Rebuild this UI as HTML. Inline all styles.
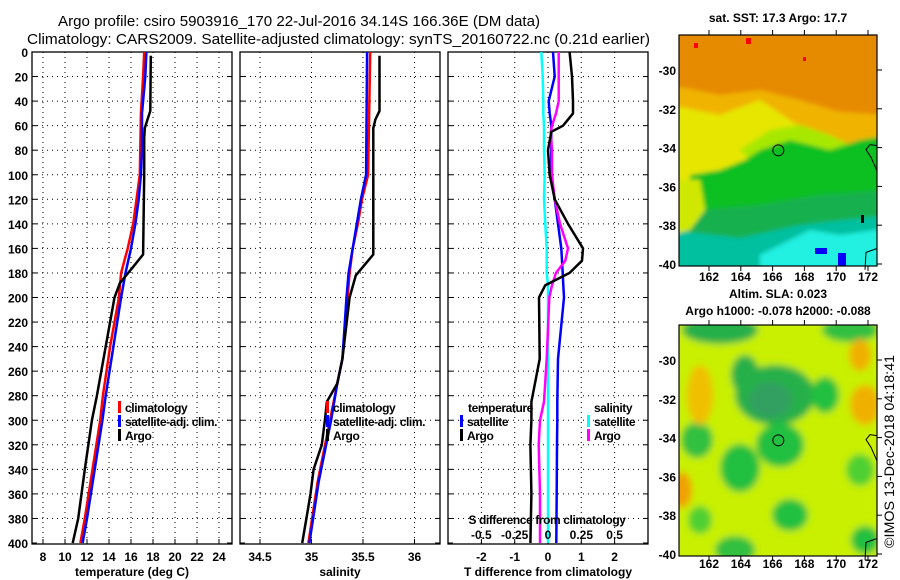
<!DOCTYPE html>
<html><head><meta charset="utf-8"><style>
html,body{margin:0;padding:0;background:#fff;}
svg{display:block;font-family:"Liberation Sans",sans-serif;}
.t{font-weight:bold;font-size:12px;fill:#000;}
.ttl{font-size:15px;fill:#000;}
.grid{stroke:#000;stroke-width:1;stroke-dasharray:1,4;fill:none;}
.frame{fill:none;stroke:#000;stroke-width:1.3;}
</style></head><body>
<svg id="chart" width="900" height="580" viewBox="0 0 900 580" xmlns="http://www.w3.org/2000/svg">
<text class="ttl" x="58" y="26" textLength="482" lengthAdjust="spacingAndGlyphs">Argo profile: csiro 5903916_170 22-Jul-2016 34.14S 166.36E (DM data)</text>
<text class="ttl" x="27" y="44" textLength="623" lengthAdjust="spacingAndGlyphs">Climatology: CARS2009. Satellite-adjusted climatology: synTS_20160722.nc (0.21d earlier)</text>
<g id="p1"></g>
<g id="p2"></g>
<g id="p3"></g>
<g id="m1"></g>
<g id="m2"></g>
<text class="t" transform="translate(894,548) rotate(-90)" style="font-weight:normal;font-size:14px" textLength="193" lengthAdjust="spacingAndGlyphs">©IMOS 13-Dec-2018 04:18:41</text>
</svg>
<script>
// ---- data ----
const depthTicks = [0,20,40,60,80,100,120,140,160,180,200,220,240,260,280,300,320,340,360,380,400];
const tempTicks = [8,10,12,14,16,18,20,22,24];
const salTicks = [34.5,35,35.5,36];
const tdiffTicks = [-2,-1,0,1,2];
const sdiffTicks = [-0.5,-0.25,0,0.25,0.5];
const sdiffTickLabels = ["-0.5","-0.25","0","0.25","0.5"];

const tempClimDepth = [0,20,50,100,120,140,160,180,200,240,280,300,340,380,400];
const tempClim = [17.2,17.1,16.9,16.8,16.5,16.2,15.7,15.1,14.9,14.1,13.45,13.2,12.5,11.8,11.4];
const tempSatDepth = [0,20,50,80,100,120,140,160,180,200,240,280,300,340,380,400];
const tempSat = [17.4,17.3,17.0,17.0,16.9,16.7,16.4,16.0,15.5,15.1,14.4,13.7,13.4,12.7,12.0,11.6];
const tempArgoDepth = [3,48,55,62,70,100,165,175,188,200,240,280,300,340,380,400];
const tempArgo = [17.8,17.75,17.5,17.25,17.2,17.2,17.1,16.2,15.0,14.5,13.7,12.9,12.45,11.8,11.2,10.7];

const salClimDepth = [0,100,120,140,160,180,200,250,270,300,350,400];
const salClim = [35.57,35.55,35.49,35.45,35.40,35.37,35.35,35.30,35.25,35.18,35.06,34.97];
const salSatDepth = [0,100,120,140,160,180,200,250,270,300,350,400];
const salSat = [35.54,35.53,35.48,35.44,35.40,35.36,35.34,35.30,35.25,35.19,35.07,34.98];
const salArgoDepth = [3,48,55,62,100,165,175,182,200,250,270,285,300,320,340,360,380,400];
const salArgo = [35.66,35.66,35.62,35.60,35.60,35.60,35.50,35.43,35.37,35.30,35.25,35.15,35.13,35.10,35.02,34.99,34.95,34.91];

const diffDepth = [0,20,40,50,60,65,80,100,120,140,160,170,180,190,200,250,285,300,320,360,400];
const tdiffSat = [0.15,0.2,0.02,0.05,0.1,0.1,0.1,0.1,0.2,0.3,0.4,0.42,0.44,0.46,0.48,0.3,0.28,0.28,0.27,0.26,0.25];
const tdiffArgo = [0.65,0.72,0.75,0.75,0.45,0.1,0,0.05,0.2,0.6,1.05,1.02,0.65,-0.08,-0.27,-0.25,-0.5,-0.5,-0.53,-0.5,-0.53];
const sdiffSat = [-0.05,-0.04,-0.035,-0.035,-0.03,-0.03,-0.03,-0.025,-0.03,-0.02,-0.01,-0.01,-0.01,0,0,0,0,0,0,0,0];
const sdiffArgo = [0.08,0.08,0.08,0.06,0.03,0.02,0.03,0.03,0.05,0.09,0.15,0.13,0.06,0.03,0.01,-0.01,-0.03,-0.06,-0.07,-0.06,-0.06];

// ---- axes ----
const Y0=52, Y1=543, PB=544;
const yD = d => Y0 + d*(Y1-Y0)/400;
const xT = t => 43 + (t-8)*11;
const xS = s => 260 + (s-34.5)*103;
const xDT = v => 548 + v*33.3;
const xDS = v => 548 + v*133.3;
const NS='http://www.w3.org/2000/svg';
function mk(parent,tag,attrs){const e=document.createElementNS(NS,tag);for(const k in attrs)e.setAttribute(k,attrs[k]);parent.appendChild(e);return e;}
function txt(parent,x,y,s,anchor){const e=mk(parent,'text',{x:x,y:y,'text-anchor':anchor||'middle'});e.setAttribute('class','t');e.textContent=s;return e;}

function panel(g,x0,x1,xticksPx,xlabels,xtitle){
  depthTicks.forEach(d=>{ if(d>0&&d<400){const l=mk(g,'line',{x1:x0,x2:x1,y1:yD(d),y2:yD(d)});l.setAttribute('class','grid');
    
    }
    mk(g,'line',{x1:x0,x2:x0+5,y1:yD(d),y2:yD(d),stroke:'#000'});mk(g,'line',{x1:x1-5,x2:x1,y1:yD(d),y2:yD(d),stroke:'#000'});});
  xticksPx.forEach((x,i)=>{const l=mk(g,'line',{x1:x,x2:x,y1:Y0,y2:PB});l.setAttribute('class','grid');
    
    
    mk(g,'line',{x1:x,x2:x,y1:PB-5,y2:PB,stroke:'#000'});
    if(xlabels){const t=txt(g,x,561,xlabels[i]);
      
      }});
  const r=mk(g,'rect',{x:x0,y:Y0,width:x1-x0,height:PB-Y0});r.setAttribute('class','frame');
  
  
  const t=txt(g,(x0+x1)/2,576,xtitle);
  
  
}
function line(g,xs,ds,fx,color,w,name){
  const pts=xs.map((v,i)=>fx(v).toFixed(1)+','+yD(ds[i]).toFixed(1)).join(' ');
  const p=mk(g,'polyline',{points:pts,fill:'none',stroke:color,'stroke-width':w,'stroke-linejoin':'round'});
  
  
}
function legend(g,x,y,color,label,name){
  mk(g,'rect',{x:x,y:y-11,width:3,height:12,fill:color});
  const t=txt(g,x+7,y,label,'start');
  t.setAttribute('letter-spacing','-0.4');
  
  
}

// panel 1
const p1=document.getElementById('p1');
panel(p1,32,232,tempTicks.map(xT),tempTicks.map(String),'temperature (deg C)');
depthTicks.forEach(d=>{const t=txt(p1,28,yD(d)+5,String(d),'end');
  
  });
line(p1,tempClim,tempClimDepth,xT,'#ff0000',2.5,'temperature-climatology-line');
line(p1,tempSat,tempSatDepth,xT,'#0000ff',2.5,'temperature-satellite-line');
line(p1,tempArgo,tempArgoDepth,xT,'#000000',2.5,'temperature-argo-line');
legend(p1,118,412,'#ff0000','climatology','legend-climatology');
legend(p1,118,426,'#0000ff','satellite-adj. clim.','legend-satellite-adj');
legend(p1,118,440,'#000000','Argo','legend-argo');

// panel 2
const p2=document.getElementById('p2');
panel(p2,240,440,salTicks.map(xS),salTicks.map(String),'salinity');
line(p2,salClim,salClimDepth,xS,'#ff0000',2.5,'salinity-climatology-line');
line(p2,salSat,salSatDepth,xS,'#0000ff',2.5,'salinity-satellite-line');
line(p2,salArgo,salArgoDepth,xS,'#000000',2.5,'salinity-argo-line');
legend(p2,326,412,'#ff0000','climatology','legend-climatology');
legend(p2,326,426,'#0000ff','satellite-adj. clim.','legend-satellite-adj');
legend(p2,326,440,'#000000','Argo','legend-argo');

// panel 3
const p3=document.getElementById('p3');
panel(p3,448,648,tdiffTicks.map(xDT),tdiffTicks.map(String),'T difference from climatology');
line(p3,sdiffSat,diffDepth,xDS,'#00ffff',2.5,'salinity-diff-satellite-line');
line(p3,tdiffSat,diffDepth,xDT,'#0000ff',2.5,'temperature-diff-satellite-line');
line(p3,sdiffArgo,diffDepth,xDS,'#ff00ff',2.5,'salinity-diff-argo-line');
line(p3,tdiffArgo,diffDepth,xDT,'#000000',2.5,'temperature-diff-argo-line');
{const t=txt(p3,468,412,'temperature','start');t.setAttribute('letter-spacing','-0.4');}
{const t=txt(p3,594,412,'salinity','start');t.setAttribute('letter-spacing','-0.4');}
legend(p3,460,426,'#0000ff','satellite','legend-t-satellite');
legend(p3,460,440,'#000000','Argo','legend-t-argo');
legend(p3,587,426,'#00ffff','satellite','legend-s-satellite');
legend(p3,587,440,'#ff00ff','Argo','legend-s-argo');
{const t=txt(p3,547,524,'S difference from climatology');t.setAttribute('letter-spacing','-0.4');}
sdiffTicks.forEach((v,i)=>{const t=txt(p3,xDS(v),539,sdiffTickLabels[i]);
  
  });

// ---- maps ----
const lonTicks=[162,164,166,168,170,172];
const latTicks=[-30,-32,-34,-36,-38,-40];
function mapFrame(g,top,bot,title1,title2,t1y,t2y,labY){
  const xl=v=>709+(v-162)*15.9, yl=v=>top+35+(-30-v)*19.4;
  lonTicks.forEach(v=>{mk(g,'line',{x1:xl(v),x2:xl(v),y1:bot,y2:bot+5,stroke:'#000'});mk(g,'line',{x1:xl(v),x2:xl(v),y1:top-5,y2:top,stroke:'#000'});
    const t=txt(g,xl(v),labY,String(v));});
  latTicks.forEach(v=>{mk(g,'line',{x1:877,x2:882,y1:yl(v),y2:yl(v),stroke:'#000'});
    const t=txt(g,676,yl(v)+5,String(v),'end');});
  const r=mk(g,'rect',{x:679,y:top,width:198,height:bot-top,fill:'none',stroke:'#000','stroke-width':1.2});
  
  const a=txt(g,778,t1y,title1);
  if(title2){const b=txt(g,778,t2y,title2);}
  const c=mk(g,'circle',{cx:xl(166.36),cy:yl(-34.14),r:5.5,fill:'none',stroke:'#000','stroke-width':1});
  
  mk(g,'polyline',{points:`877,${yl(-33.9)} 870,${yl(-33.85)} 866,${yl(-34.1)} 871,${yl(-34.5)} 877,${yl(-35.2)}`,fill:'none',stroke:'#000','stroke-width':1});
  mk(g,'polyline',{points:`877,${yl(-39.2)} 866,${yl(-39.4)} 865,${yl(-40.3)}`,fill:'none',stroke:'#000','stroke-width':1});
}
const m1=document.getElementById('m1');
const defs=mk(document.getElementById('chart'),'defs',{});
defs.innerHTML='<clipPath id="c1"><rect x="679" y="35" width="198" height="231"/></clipPath><clipPath id="c2"><rect x="679" y="325" width="198" height="231"/></clipPath><filter id="bl" x="-20%" y="-20%" width="140%" height="140%"><feGaussianBlur stdDeviation="3.5"/></filter><filter id="bl2"><feGaussianBlur stdDeviation="2"/></filter>';
const g1=mk(m1,'g',{'clip-path':'url(#c1)'});
g1.innerHTML=`<g filter="url(#bl2)">
<rect x="670" y="25" width="220" height="250" fill="#e68a00"/>
<polygon points="670,85 720,95 760,90 800,100 840,112 890,115 890,150 870,155 800,150 760,130 670,130" fill="#f0b400"/>
<polygon points="670,105 720,115 760,100 790,120 820,140 850,145 860,150 800,160 760,180 730,190 700,200 670,240" fill="#e6e600"/>
<polygon points="740,150 770,130 800,125 830,135 850,145 890,150 890,175 760,170" fill="#a8e800"/>
<polygon points="690,175 720,170 745,160 760,150 790,140 830,150 860,140 890,135 890,260 670,260 670,210 690,200" fill="#10c020"/>
<polygon points="700,210 760,205 820,195 890,190 890,275 670,275 670,230" fill="#18b050"/>
<polygon points="670,230 740,238 800,225 890,215 890,275 670,275" fill="#00c0a0"/>
<polygon points="760,255 790,240 810,230 840,235 890,228 890,275 760,275" fill="#20f0e0"/>
<polygon points="670,180 700,180 705,210 690,230 670,235" fill="#d0e800"/>
</g>
<rect x="815" y="248" width="12" height="6" fill="#0000ff"/><rect x="838" y="253" width="8" height="13" fill="#0000ff"/>
<rect x="694" y="43" width="4" height="5" fill="#ff0000"/><rect x="746" y="38" width="5" height="6" fill="#ff0000"/><rect x="803" y="57" width="3" height="4" fill="#ff0000"/>
<rect x="861" y="215" width="3" height="8" fill="#000"/>`;
mapFrame(m1,35,266,'sat. SST: 17.3  Argo: 17.7',null,22,0,281);

const m2=document.getElementById('m2');
const g2=mk(m2,'g',{'clip-path':'url(#c2)'});
g2.innerHTML=`<g filter="url(#bl)">
<rect x="670" y="315" width="220" height="250" fill="#c8f000"/>
<ellipse cx="775" cy="395" rx="40" ry="30" fill="#28b048"/>
<ellipse cx="770" cy="400" rx="22" ry="18" fill="#30a060"/>
<ellipse cx="720" cy="330" rx="38" ry="14" fill="#28b048"/>
<ellipse cx="745" cy="375" rx="14" ry="20" fill="#28b048"/>
<ellipse cx="825" cy="395" rx="14" ry="18" fill="#20c040"/>
<ellipse cx="780" cy="445" rx="24" ry="22" fill="#20c040"/>
<ellipse cx="740" cy="468" rx="20" ry="24" fill="#20c040"/>
<ellipse cx="697" cy="440" rx="16" ry="18" fill="#30c040"/>
<ellipse cx="790" cy="515" rx="18" ry="16" fill="#20c040"/>
<ellipse cx="735" cy="550" rx="20" ry="14" fill="#30c040"/>
<ellipse cx="700" cy="520" rx="12" ry="14" fill="#50d030"/>
<ellipse cx="850" cy="330" rx="28" ry="12" fill="#30c040"/>
<ellipse cx="860" cy="470" rx="14" ry="16" fill="#50d030"/>
<ellipse cx="700" cy="395" rx="13" ry="30" fill="#f0c000"/>
<ellipse cx="860" cy="355" rx="11" ry="16" fill="#f0b000"/>
<ellipse cx="865" cy="405" rx="15" ry="20" fill="#f0b000"/>
<ellipse cx="682" cy="490" rx="10" ry="18" fill="#f0a000"/>
<ellipse cx="865" cy="540" rx="14" ry="14" fill="#20c040"/>
</g>`;
mapFrame(m2,325,556,'Altim. SLA: 0.023','Argo h1000: -0.078 h2000: -0.088',298,315,568);
</script>
</body></html>
